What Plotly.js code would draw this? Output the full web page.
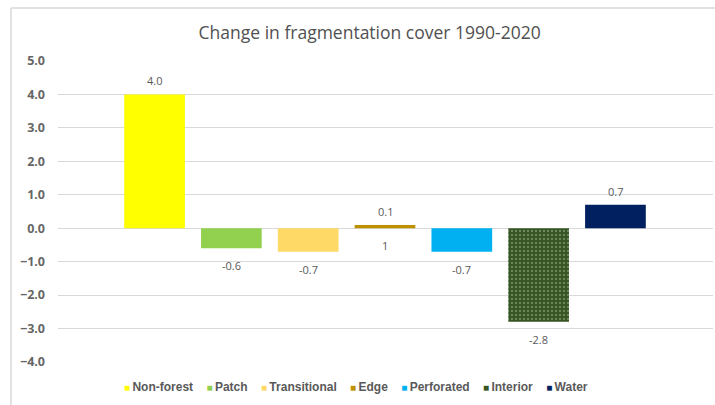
<!DOCTYPE html>
<html>
<head>
<meta charset="utf-8">
<script src="https://cdn.plot.ly/plotly-3.0.1.min.js"></script>
<style>
html,body{margin:0;padding:0;background:#fff;}
#chart{width:715px;height:405px;}
</style>
</head>
<body>
<div id="chart"></div>
<script>
const categories = ["Non-forest", "Patch", "Transitional", "Edge", "Perforated", "Interior", "Water"];
const values = [4.0, -0.6, -0.7, 0.1, -0.7, -2.8, 0.7];
const colors = ["#FFFF00", "#92D050", "#FFD966", "#BF9000", "#00B0F0", "#375623", "#002060"];
const yTicks = [-4, -3, -2, -1, 0, 1, 2, 3, 4, 5];
const extraLabels = [{category: "Edge", text: "1"}];

const labelFont = {family: "Open Sans, sans-serif", size: 11, color: "#595959"};

const traces = categories.map((c, i) => {
  const marker = {color: colors[i], line: {width: 0}};
  if (c === "Interior") {
    marker.pattern = {shape: ".", bgcolor: colors[i], fgcolor: "#c9d6bf", size: 4, solidity: 0.1, fillmode: "replace"};
  }
  return {
    type: "bar",
    name: c,
    x: [c],
    y: [values[i]],
    width: 0.79,
    marker: marker,
    showlegend: false,
    hoverinfo: "x+y"
  };
});

// data labels
const annotations = categories.map((c, i) => ({
  x: c, y: values[i], xref: "x", yref: "y",
  text: values[i].toFixed(1), showarrow: false,
  yanchor: values[i] >= 0 ? "bottom" : "top",
  yshift: values[i] >= 0 ? 4 : -8,
  font: labelFont
}));
extraLabels.forEach(l => annotations.push({
  x: l.category, y: 0, xref: "x", yref: "y",
  text: l.text, showarrow: false, yanchor: "top", yshift: -8,
  font: labelFont
}));

// legend row (Excel style small squares)
const legendText = categories.map((c, i) =>
  '<span style="color:' + colors[i] + ';font-size:10px">■</span>\u2009' + c
).join('\u00a0\u00a0\u00a0\u00a0');
annotations.push({
  xref: "paper", yref: "paper", x: 0.455, y: -0.083,
  xanchor: "center", yanchor: "middle", showarrow: false,
  text: legendText,
  font: {family: "Liberation Sans, Arial, sans-serif", size: 12, color: "#595959", weight: "bold"}
});

const layout = {
  width: 715, height: 405,
  margin: {l: 58, r: 2, t: 61, b: 43, pad: 0},
  paper_bgcolor: "#ffffff",
  plot_bgcolor: "#ffffff",
  barmode: "overlay",
  showlegend: false,
  title: {
    text: "Change in fragmentation cover 1990-2020",
    x: 0.517, xanchor: "center", y: 0.92, yanchor: "middle",
    font: {family: "Open Sans, sans-serif", size: 17.5, color: "#505050"}
  },
  xaxis: {
    type: "category",
    range: [-1.257, 7.27],
    showticklabels: false,
    showgrid: false,
    zeroline: false,
    showline: false,
    ticks: ""
  },
  yaxis: {
    range: [-4, 5],
    tickvals: yTicks,
    tickformat: ".1f",
    showgrid: true,
    gridcolor: "#d9d9d9",
    gridwidth: 1,
    zeroline: true,
    zerolinecolor: "#d9d9d9",
    zerolinewidth: 1,
    showline: false,
    ticks: "",
    ticklabelstandoff: 12,
    tickfont: {family: "Open Sans, sans-serif", size: 12.5, color: "#666666", weight: "bold"}
  },
  annotations: annotations,
  shapes: [
    {type: "line", xref: "paper", yref: "paper", x0: -0.0718, x1: 1.2, y0: 1.176, y1: 1.176, line: {color: "#d9d9d9", width: 1.5}},
    {type: "line", xref: "paper", yref: "paper", x0: -0.0718, x1: -0.0718, y0: 1.176, y1: -0.3, line: {color: "#d9d9d9", width: 1.5}}
  ]
};

Plotly.newPlot("chart", traces, layout, {displayModeBar: false, staticPlot: true});
</script>
</body>
</html>
